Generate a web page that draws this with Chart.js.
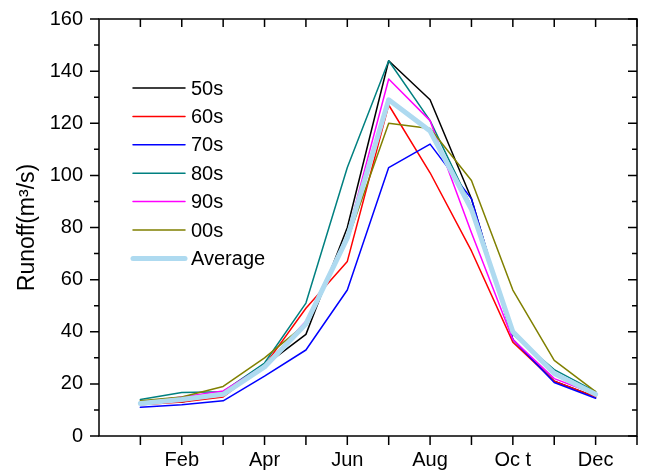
<!DOCTYPE html>
<html>
<head>
<meta charset="utf-8">
<script src="https://cdn.jsdelivr.net/npm/chart.js@4.4.1/dist/chart.umd.min.js"></script>
<style>
  html, body { margin: 0; padding: 0; background: #fff; }
  #wrap { width: 645px; height: 475px; }
</style>
</head>
<body>
<div id="wrap"><canvas id="runoffChart" width="645" height="475"></canvas></div>
<script>
// bulan (label hanya ditulis pada bulan genap)
const months = ["Jan", "Feb", "Mar", "Apr", "May", "Jun", "Jul", "Aug", "Sep", "Oc t", "Nov", "Dec"];
const yTicks = [0, 20, 40, 60, 80, 100, 120, 140, 160];

// debit per dekade
const s50 = [13, 13, 16, 27, 39, 80, 144, 129, 91, 37, 21, 15];
const s60 = [12, 13, 15, 27, 49, 67, 127, 101, 71, 36, 21, 15];
const s70 = [11, 12, 13.5, 23, 33, 56, 103, 112, 91, 37, 20.5, 14.5];
const s80 = [14, 16.7, 17, 28, 51, 103, 144, 121, 88, 39, 25.5, 17];
const s90 = [13, 15, 17.3, 27, 44, 77, 137, 121, 78, 37, 22, 16];
const s00 = [13.5, 15, 19, 30, 43, 75, 120, 118, 98, 56, 29, 17];
const sAvg = [12.5, 14, 16, 26.5, 43, 76, 129, 117, 87, 40, 24, 16];

const seriesNames = ["50s", "60s", "70s", "80s", "90s", "00s", "Average"];
const seriesData = [s50, s60, s70, s80, s90, s00, sAvg];
const seriesColors = ["#000000", "#FF0000", "#0000FF", "#008080", "#FF00FF", "#808000", "#AEDAF0"];
const seriesWidths = [1.5, 1.5, 1.5, 1.5, 1.5, 1.5, 5];

const toPoints = arr => arr.map((v, i) => ({ x: i + 1, y: v }));

const datasets = seriesData.map((arr, i) => ({
    label: seriesNames[i],
    data: toPoints(arr),
    borderColor: seriesColors[i],
    backgroundColor: seriesColors[i],
    borderWidth: seriesWidths[i],
    pointRadius: 0,
    tension: 0,
    borderCapStyle: "round",
    borderJoinStyle: "round",
    order: seriesNames.length - i
}));

// bingkai, tick kecil, dan legenda di dalam area plot
const framePlugin = {
    id: "frame",
    afterDraw(chart) {
        const { ctx, chartArea: a, scales } = chart;
        const xs = scales.x, ys = scales.y;
        ctx.save();
        ctx.strokeStyle = "#000";
        ctx.lineWidth = 1.5;
        ctx.strokeRect(a.left, a.top, a.right - a.left, a.bottom - a.top);
        ctx.beginPath();
        // tick atas (ke dalam) dan bawah (ke luar)
        for (let m = 1; m <= 13; m++) {
            const px = xs.getPixelForValue(m);
            ctx.moveTo(px, a.top); ctx.lineTo(px, a.top + 8);
            ctx.moveTo(px, a.bottom); ctx.lineTo(px, a.bottom + 9);
        }
        // tick kiri (ke luar) dan kanan (ke dalam)
        for (let v = 0; v <= 160; v += 10) {
            const py = ys.getPixelForValue(v);
            const len = v % 20 === 0 ? 9 : 5;
            ctx.moveTo(a.left, py); ctx.lineTo(a.left - len, py);
            ctx.moveTo(a.right, py); ctx.lineTo(a.right - len, py);
        }
        ctx.stroke();

        // legenda
        ctx.font = "20px 'Liberation Sans', Arial, sans-serif";
        ctx.textBaseline = "middle";
        ctx.fillStyle = "#000";
        const x0 = a.left + 34, x1 = a.left + 86;
        seriesNames.forEach((name, i) => {
            const y = a.top + 69 + i * 28.4;
            ctx.beginPath();
            ctx.strokeStyle = seriesColors[i];
            ctx.lineWidth = seriesWidths[i];
            ctx.lineCap = "round";
            ctx.moveTo(x0, y); ctx.lineTo(x1, y);
            ctx.stroke();
            ctx.fillText(name, x1 + 6, y + 1);
        });
        ctx.restore();
    }
};

const ctx = document.getElementById("runoffChart").getContext("2d");
new Chart(ctx, {
    type: "line",
    data: { datasets: datasets },
    options: {
        responsive: false,
        animation: false,
        layout: { padding: { top: 19, right: 8, left: 0, bottom: 0 } },
        plugins: { legend: { display: false }, tooltip: { enabled: false } },
        scales: {
            x: {
                type: "linear",
                min: 0,
                max: 13,
                afterFit: s => {
                    s.height = 39;
                    s.paddingLeft = 0;
                    s.paddingRight = 0;
                },
                grid: { display: false, drawTicks: false },
                border: { display: false },
                ticks: {
                    stepSize: 1,
                    autoSkip: false,
                    maxRotation: 0,
                    padding: 12,
                    color: "#000",
                    font: { family: "'Liberation Sans', Arial, sans-serif", size: 20 },
                    callback: v => (v >= 1 && v <= 12 && v % 2 === 0) ? months[v - 1] : ""
                }
            },
            y: {
                min: 0,
                max: 160,
                afterFit: s => {
                    s.width = 99;
                    s.paddingTop = 0;
                    s.paddingBottom = 0;
                },
                afterBuildTicks: s => { s.ticks = yTicks.map(v => ({ value: v })); },
                grid: { display: false, drawTicks: false },
                border: { display: false },
                ticks: {
                    padding: 16,
                    color: "#000",
                    font: { family: "'Liberation Sans', Arial, sans-serif", size: 20 }
                },
                title: {
                    display: true,
                    text: "Runoff(m³/s)",
                    color: "#000",
                    padding: { top: 14, bottom: 0 },
                    font: { family: "'Liberation Sans', Arial, sans-serif", size: 23 }
                }
            }
        }
    },
    plugins: [framePlugin]
});
</script>
</body>
</html>
